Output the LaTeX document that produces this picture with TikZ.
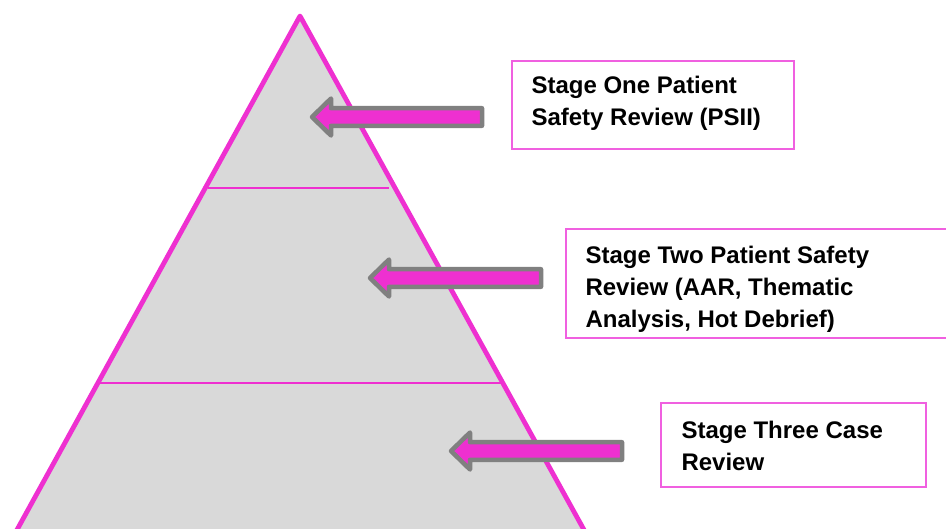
\documentclass[tikz,border=0pt]{standalone}
\usepackage{fontspec}
\setmainfont{Liberation Sans}
\usetikzlibrary{positioning}

\definecolor{stagepink}{RGB}{238,48,208}
\definecolor{boxpink}{RGB}{240,96,224}
\definecolor{pyrgray}{RGB}{217,217,217}
\definecolor{arrowgray}{RGB}{128,128,128}

\begin{document}
\begin{tikzpicture}[x=1pt,y=-1pt]
\tikzstyle{pyramid} = [draw=stagepink, line width=4.8pt, fill=pyrgray, line join=round]
\tikzstyle{level} = [draw=stagepink, line width=1.8pt]
\tikzstyle{pointer} = [draw=arrowgray, fill=stagepink, line width=4.5pt, line join=round]
\tikzstyle{stagebox} = [rectangle, draw=boxpink, line width=1.3pt, inner sep=0pt]
\tikzstyle{stagetext} = [inner sep=0pt, align=left, anchor=north west,
font=\fontsize{24}{32}\selectfont\bfseries]

\useasboundingbox (0,0) rectangle (946,528);

% pyramid and its levels
\path[pyramid] (300,16) -- (11.4,540) -- (589.6,540) -- cycle;
\draw[level] (208,188) -- (389,188);
\draw[level] (100,383) -- (501,383);

% arrows
\draw[pointer] (482,108.2) -- (331,108.2) -- (331,98.5) -- (312,117) -- (331,135.5) -- (331,125.8) -- (482,125.8) -- cycle;
\draw[pointer] (541,269.2) -- (389,269.2) -- (389,259.5) -- (370,278) -- (389,296.5) -- (389,286.8) -- (541,286.8) -- cycle;
\draw[pointer] (622,442.2) -- (470,442.2) -- (470,432.5) -- (451,451) -- (470,469.5) -- (470,459.8) -- (622,459.8) -- cycle;

% stage boxes
\node [stagebox, minimum width=282pt, minimum height=88pt] (stage1) at (653,105) {};
\node [stagetext, below right=15.5pt and 20pt of stage1.north west] (label1) {Stage One Patient\\
Safety Review (PSII)};

\node [stagebox, minimum width=400pt, minimum height=109pt] (stage2) at (766,283.5) {};
\node [stagetext, below right=17.8pt and 20pt of stage2.north west] (label2) {Stage Two Patient Safety\\
Review (AAR, Thematic\\
Analysis, Hot Debrief)};

\node [stagebox, minimum width=265pt, minimum height=84pt] (stage3) at (793.5,445) {};
\node [stagetext, below right=18.5pt and 21pt of stage3.north west] (label3) {Stage Three Case\\
Review};
\end{tikzpicture}
\end{document}
